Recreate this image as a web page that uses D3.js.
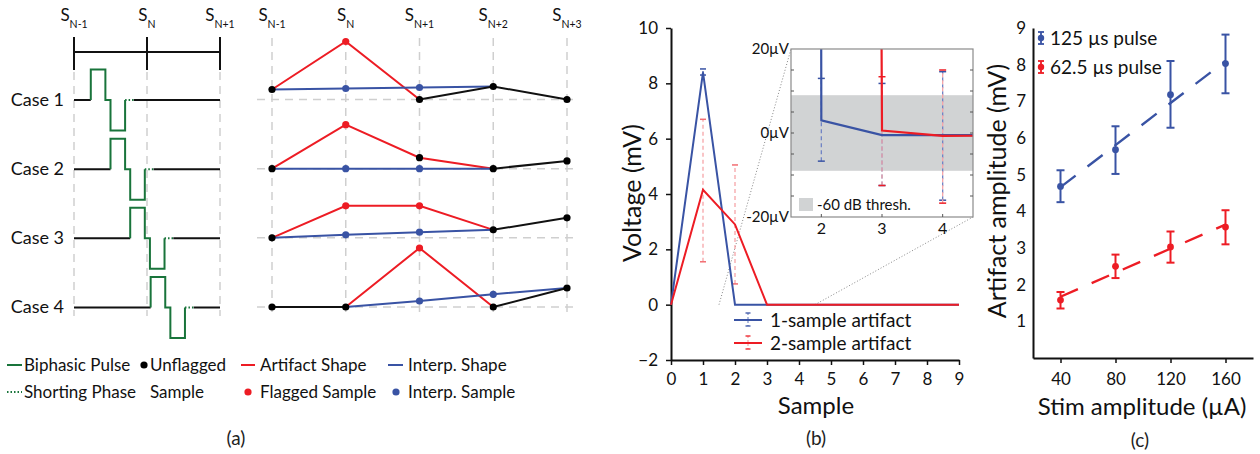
<!DOCTYPE html>
<html>
<head>
<meta charset="utf-8">
<script src="https://cdn.jsdelivr.net/npm/d3@7"></script>
<style>
  html, body { margin: 0; padding: 0; background: #fff; }
  svg { display: block; font-family: Lato, "Open Sans", sans-serif; }
</style>
</head>
<body>
<svg id="fig" width="1260" height="454"></svg>
<script>
// ---------------- data ----------------
// (a) stimulation timing diagram
const timingSamples = ["N-1", "N", "N+1"];
const caseNames = ["Case 1", "Case 2", "Case 3", "Case 4"];
// pulse onset, in sample periods after S_{N-1}
const pulseOnset = [0.23, 0.5, 0.77, 1.05];
const phaseWidth = 0.2;      // anodic / cathodic phase length
const interphaseGap = 0.07;
const shortingWidth = 0.12;

// (a) sample-level view
const sampleNames = ["N-1", "N", "N+1", "N+2", "N+3"];
// recorded value of each sample (arbitrary units), one row per case
const recorded = [
  [1.0, 5.8, 0.0, 1.3, 0.0],
  [0.0, 4.4, 1.1, 0.0, 0.77],
  [0.0, 3.2, 3.2, 0.8, 2.0],
  [0.0, 0.0, 5.9, 0.0, 1.9]
];
const flaggedIdx = [[1], [1], [1, 2], [2]];
const artifactSpan = [[0, 2], [0, 3], [0, 3], [1, 3]];
const unflaggedSpans = [[[2, 4]], [[3, 4]], [[3, 4]], [[0, 1], [3, 4]]];
const interpIdx = [[1, 2], [1, 2], [1, 2], [2, 3]];
const interpValues = [[1.1, 1.2], [0.0, 0.0], [0.3, 0.57], [0.6, 1.27]];
const interpSpan = [[0, 3], [0, 3], [0, 3], [1, 4]];

// (b) artifact shapes, mV
const sampleIdx = [0, 1, 2, 3, 4, 5, 6, 7, 8, 9];
const oneSample = [0, 8.4, 0, 0, 0, 0, 0, 0, 0, 0];
const twoSample = [0, 4.15, 2.9, 0, 0, 0, 0, 0, 0, 0];
const oneSampleErr = [[1, 8.3, 8.52]];
const twoSampleErr = [[1, 1.55, 6.7], [2, 0.75, 5.05]];
// (b) inset, µV
const insetIdx = [1, 2, 3, 4, 5];
const oneSampleUV = [8400, 3, -0.5, -0.5, -0.5];
const twoSampleUV = [4150, 2900, 0.6, -0.7, -0.6];
const oneSampleErrUV = [[2, -6.7, 13], [3, -12.5, 11.8], [4, -16, 14.6]];
const twoSampleErrUV = [[3, -12.5, 13.4], [4, -16.7, 15]];
const threshUV = 9;

// (c) artifact amplitude vs stimulation amplitude
const stimAmps = [40, 80, 120, 160];
const amp125 = [4.68, 5.68, 7.18, 8.03];
const err125 = [[4.25, 5.12], [5.02, 6.32], [6.28, 8.1], [7.22, 8.82]];
const amp62 = [1.58, 2.5, 3.03, 3.57];
const err62 = [[1.35, 1.8], [2.18, 2.82], [2.6, 3.45], [3.1, 4.03]];
const fit125 = [[40, 4.66], [160, 8.1]];
const fit62 = [[40, 1.67], [160, 3.64]];

// ---------------- styles ----------------
const BLUE = "#3953a4", RED = "#ed1c24", GREEN = "#19743b", GREY = "#cfcfcf";
const PINK = "#f6a5a8";

const svg = d3.select("#fig");
svg.append("rect").attr("width", 1260).attr("height", 454).attr("fill", "#fff");

function sampleLabel(g, x, sub) {
  const t = g.append("text").attr("x", x).attr("y", 21)
    .attr("text-anchor", "middle").attr("fill", "#111");
  t.append("tspan").attr("font-size", 17).text("S");
  t.append("tspan").attr("font-size", 10.5).attr("dy", 7).text(sub);
}

// ================= panel (a), timing =================
const gA = svg.append("g");
const tA = d3.scaleLinear().domain([0, 2]).range([74, 220]);
const caseY = d3.scaleLinear().domain([0, 3]).range([99.5, 307]);

timingSamples.forEach((s, i) => {
  sampleLabel(gA, tA(i), s);
  gA.append("line").attr("x1", tA(i)).attr("x2", tA(i)).attr("y1", 37).attr("y2", 70)
    .attr("stroke", "#111").attr("stroke-width", 2);
  gA.append("line").attr("x1", tA(i)).attr("x2", tA(i)).attr("y1", 72).attr("y2", 316)
    .attr("stroke", GREY).attr("stroke-width", 1.5).attr("stroke-dasharray", "8,6");
});
gA.append("line").attr("x1", tA(0)).attr("x2", tA(2)).attr("y1", 52).attr("y2", 52)
  .attr("stroke", "#111").attr("stroke-width", 2);

caseNames.forEach((name, c) => {
  const base = caseY(c);
  const lv = d3.scaleLinear().domain([-1, 1]).range([base + 31, base - 30]);
  const line = d3.line().x(d => tA(d[0])).y(d => lv(d[1]));
  const t0 = pulseOnset[c];
  const t1 = t0 + phaseWidth, t2 = t1 + interphaseGap, t3 = t2 + phaseWidth, t4 = t3 + shortingWidth;
  gA.append("text").attr("x", 64).attr("y", base + 6).attr("text-anchor", "end")
    .attr("font-size", 18).attr("fill", "#111").text(name);
  gA.append("path").attr("d", line([[0, 0], [t0, 0]])).attr("stroke", "#111").attr("stroke-width", 2).attr("fill", "none");
  gA.append("path").attr("d", line([[t0, 0], [t0, 1], [t1, 1], [t1, 0], [t2, 0], [t2, -1], [t3, -1], [t3, 0]]))
    .attr("stroke", GREEN).attr("stroke-width", 2).attr("fill", "none");
  gA.append("path").attr("d", line([[t3, 0], [t4, 0]])).attr("stroke", GREEN).attr("stroke-width", 2)
    .attr("stroke-dasharray", "1.5,2").attr("fill", "none");
  gA.append("path").attr("d", line([[t4, 0], [2, 0]])).attr("stroke", "#111").attr("stroke-width", 2).attr("fill", "none");
});

// ================= panel (a), samples =================
const gS = svg.append("g");
const xS = d3.scaleLinear().domain([0, 4]).range([272, 567]);
sampleNames.forEach((s, i) => {
  sampleLabel(gS, xS(i), s);
  gS.append("line").attr("x1", xS(i)).attr("x2", xS(i)).attr("y1", 38).attr("y2", 318)
    .attr("stroke", GREY).attr("stroke-width", 1.5).attr("stroke-dasharray", "8,6");
});
caseNames.forEach((name, c) => {
  const base = caseY(c);
  gS.append("line").attr("x1", 257).attr("x2", 576).attr("y1", base).attr("y2", base)
    .attr("stroke", GREY).attr("stroke-width", 1.5).attr("stroke-dasharray", "8,6");
});
caseNames.forEach((name, c) => {
  const yv = d3.scaleLinear().domain([0, 1]).range([caseY(c), caseY(c) - 10]);
  const line = d3.line().x(d => xS(d[0])).y(d => yv(d[1]));
  const rec = recorded[c];
  const interp = rec.map((v, i) => {
    const k = interpIdx[c].indexOf(i);
    return k >= 0 ? interpValues[c][k] : v;
  });
  const span = (a, b, vals) => d3.range(a, b + 1).map(i => [i, vals[i]]);
  // artifact shape
  gS.append("path").attr("d", line(span(artifactSpan[c][0], artifactSpan[c][1], rec)))
    .attr("stroke", RED).attr("stroke-width", 2).attr("fill", "none");
  // interpolated shape
  gS.append("path").attr("d", line(span(interpSpan[c][0], interpSpan[c][1], interp)))
    .attr("stroke", BLUE).attr("stroke-width", 2).attr("fill", "none");
  // unflagged trace
  unflaggedSpans[c].forEach(s => {
    gS.append("path").attr("d", line(span(s[0], s[1], rec)))
      .attr("stroke", "#111").attr("stroke-width", 2).attr("fill", "none");
  });
  interpIdx[c].forEach((i, k) => {
    gS.append("circle").attr("cx", xS(i)).attr("cy", yv(interpValues[c][k])).attr("r", 3.6).attr("fill", BLUE);
  });
  rec.forEach((v, i) => {
    if (flaggedIdx[c].includes(i)) return;
    gS.append("circle").attr("cx", xS(i)).attr("cy", yv(v)).attr("r", 3.6).attr("fill", "#000");
  });
  flaggedIdx[c].forEach(i => {
    gS.append("circle").attr("cx", xS(i)).attr("cy", yv(rec[i])).attr("r", 3.6).attr("fill", RED);
  });
});

// legend (a)
const gL = svg.append("g").attr("font-size", 17).attr("fill", "#111");
const row1 = 365, row2 = 392;
gL.append("line").attr("x1", 7).attr("x2", 22).attr("y1", row1).attr("y2", row1).attr("stroke", GREEN).attr("stroke-width", 2);
gL.append("text").attr("x", 24).attr("y", row1 + 6).text("Biphasic Pulse");
gL.append("line").attr("x1", 7).attr("x2", 22).attr("y1", row2).attr("y2", row2).attr("stroke", GREEN).attr("stroke-width", 2).attr("stroke-dasharray", "1.5,2");
gL.append("text").attr("x", 24).attr("y", row2 + 6).text("Shorting Phase");
gL.append("circle").attr("cx", 144).attr("cy", row1).attr("r", 3.6).attr("fill", "#000");
gL.append("text").attr("x", 150).attr("y", row1 + 6).text("Unflagged");
gL.append("text").attr("x", 150).attr("y", row2 + 6).text("Sample");
gL.append("line").attr("x1", 241).attr("x2", 255).attr("y1", row1).attr("y2", row1).attr("stroke", RED).attr("stroke-width", 2);
gL.append("text").attr("x", 260).attr("y", row1 + 6).text("Artifact Shape");
gL.append("circle").attr("cx", 248).attr("cy", row2).attr("r", 3.6).attr("fill", RED);
gL.append("text").attr("x", 260).attr("y", row2 + 6).text("Flagged Sample");
gL.append("line").attr("x1", 388).attr("x2", 403).attr("y1", row1).attr("y2", row1).attr("stroke", BLUE).attr("stroke-width", 2);
gL.append("text").attr("x", 408).attr("y", row1 + 6).text("Interp. Shape");
gL.append("circle").attr("cx", 396).attr("cy", row2).attr("r", 3.6).attr("fill", BLUE);
gL.append("text").attr("x", 408).attr("y", row2 + 6).text("Interp. Sample");
svg.append("text").attr("x", 236).attr("y", 445).attr("text-anchor", "middle").attr("font-size", 19).attr("fill", "#222").text("(a)");

// ================= panel (b) =================
const gB = svg.append("g");
const xB = d3.scaleLinear().domain([0, 9]).range([671, 959]);
const yB = d3.scaleLinear().domain([-2, 10]).range([360, 28]);

function styleAxis(g) {
  g.selectAll(".domain").attr("stroke", "#111").attr("stroke-width", 2);
  g.selectAll(".tick line").attr("stroke", "#111").attr("stroke-width", 1.5);
  g.selectAll(".tick text").attr("fill", "#111").attr("font-size", 17).attr("font-family", "Lato, sans-serif");
}
gB.append("g").attr("transform", "translate(0,360)")
  .call(d3.axisBottom(xB).tickValues(sampleIdx).tickSize(5).tickSizeOuter(0).tickPadding(8))
  .call(styleAxis);
gB.append("g").attr("transform", "translate(671,0)")
  .call(d3.axisLeft(yB).tickValues([-2, 0, 2, 4, 6, 8, 10]).tickSize(5).tickSizeOuter(0).tickPadding(8))
  .call(styleAxis);

// zoom connectors
gB.append("line").attr("x1", xB(1.5)).attr("y1", yB(0)).attr("x2", 791).attr("y2", 49)
  .attr("stroke", "#888").attr("stroke-width", 1).attr("stroke-dasharray", "1,2");
gB.append("line").attr("x1", xB(4.5)).attr("y1", yB(0)).attr("x2", 973).attr("y2", 217)
  .attr("stroke", "#888").attr("stroke-width", 1).attr("stroke-dasharray", "1,2");

function errBars(g, x, y, rows, color, dashColor, capW) {
  rows.forEach(r => {
    g.append("line").attr("x1", x(r[0])).attr("x2", x(r[0])).attr("y1", y(r[1])).attr("y2", y(r[2]))
      .attr("stroke", dashColor).attr("stroke-width", 1.3).attr("stroke-dasharray", "4,3");
    [r[1], r[2]].forEach(v => {
      g.append("line").attr("x1", x(r[0]) - capW / 2).attr("x2", x(r[0]) + capW / 2).attr("y1", y(v)).attr("y2", y(v))
        .attr("stroke", color).attr("stroke-width", 1.5);
    });
  });
}
const lineB = d3.line().x((d, i) => xB(sampleIdx[i])).y(d => yB(d));
errBars(gB, xB, yB, twoSampleErr, "#f26d72", PINK, 6);
gB.append("path").attr("d", lineB(oneSample)).attr("stroke", BLUE).attr("stroke-width", 2).attr("fill", "none");
gB.append("path").attr("d", lineB(twoSample)).attr("stroke", RED).attr("stroke-width", 2).attr("fill", "none");
errBars(gB, xB, yB, oneSampleErr, BLUE, BLUE, 6);

// legend (b)
[[320, BLUE, "#7d8fc9", "1-sample artifact"], [343, RED, PINK, "2-sample artifact"]].forEach(([y, c, dc, label]) => {
  gB.append("line").attr("x1", 734).attr("x2", 762).attr("y1", y).attr("y2", y).attr("stroke", c).attr("stroke-width", 2);
  gB.append("line").attr("x1", 748).attr("x2", 748).attr("y1", y - 7).attr("y2", y + 6).attr("stroke", dc).attr("stroke-width", 1.2).attr("stroke-dasharray", "2,2");
  [y - 7, y + 6].forEach(v => gB.append("line").attr("x1", 745.5).attr("x2", 750.5).attr("y1", v).attr("y2", v).attr("stroke", c).attr("stroke-width", 1.3));
  gB.append("text").attr("x", 770).attr("y", y + 7).attr("font-size", 19).attr("fill", "#111").text(label);
});

gB.append("text").attr("transform", "translate(641,193) rotate(-90)").attr("text-anchor", "middle")
  .attr("font-size", 25).attr("fill", "#111").text("Voltage (mV)");
gB.append("text").attr("x", 816).attr("y", 414).attr("text-anchor", "middle")
  .attr("font-size", 24).attr("fill", "#111").text("Sample");
svg.append("text").attr("x", 816).attr("y", 445).attr("text-anchor", "middle").attr("font-size", 19).attr("fill", "#222").text("(b)");

// ---- inset ----
const xI = d3.scaleLinear().domain([1.5, 4.5]).range([791, 973]);
const yI = d3.scaleLinear().domain([-20, 20]).range([217, 49]);
const gI = svg.append("g");
gI.append("defs").append("clipPath").attr("id", "insetClip")
  .append("rect").attr("x", xI(1.5)).attr("y", yI(20)).attr("width", xI(4.5) - xI(1.5)).attr("height", yI(-20) - yI(20));
gI.append("rect").attr("x", xI(1.5)).attr("y", yI(20)).attr("width", xI(4.5) - xI(1.5)).attr("height", yI(-20) - yI(20)).attr("fill", "#fff");
gI.append("rect").attr("x", xI(1.5)).attr("y", yI(threshUV)).attr("width", xI(4.5) - xI(1.5))
  .attr("height", yI(-threshUV) - yI(threshUV)).attr("fill", "#d1d3d4");
const gIc = gI.append("g").attr("clip-path", "url(#insetClip)");
const lineI = d3.line().x((d, i) => xI(insetIdx[i])).y(d => yI(d));
errBars(gIc, xI, yI, oneSampleErrUV, BLUE, "#6f83c4", 7);
errBars(gIc, xI, yI, twoSampleErrUV, RED, PINK, 7);
gIc.append("path").attr("d", lineI(oneSampleUV)).attr("stroke", BLUE).attr("stroke-width", 2.2).attr("fill", "none");
gIc.append("path").attr("d", lineI(twoSampleUV)).attr("stroke", RED).attr("stroke-width", 2.2).attr("fill", "none");
// frame and inward ticks
gI.append("rect").attr("x", xI(1.5)).attr("y", yI(20)).attr("width", xI(4.5) - xI(1.5)).attr("height", yI(-20) - yI(20))
  .attr("fill", "none").attr("stroke", "#8a8a8a").attr("stroke-width", 1.2);
d3.range(-15, 20, 5).forEach(v => {
  gI.append("line").attr("x1", xI(1.5)).attr("x2", xI(1.5) + 3).attr("y1", yI(v)).attr("y2", yI(v)).attr("stroke", "#555").attr("stroke-width", 1);
  gI.append("line").attr("x1", xI(4.5)).attr("x2", xI(4.5) - 3).attr("y1", yI(v)).attr("y2", yI(v)).attr("stroke", "#555").attr("stroke-width", 1);
});
[2, 3, 4].forEach(v => {
  gI.append("line").attr("x1", xI(v)).attr("x2", xI(v)).attr("y1", yI(-20)).attr("y2", yI(-20) - 3).attr("stroke", "#555");
  gI.append("text").attr("x", xI(v)).attr("y", 234).attr("text-anchor", "middle").attr("font-size", 16).attr("fill", "#111").text(v);
});
[[20, "20µV"], [0, "0µV"], [-20, "-20µV"]].forEach(([v, s]) => {
  gI.append("text").attr("x", 789).attr("y", yI(v) + 5).attr("text-anchor", "end").attr("font-size", 15).attr("fill", "#111").text(s);
});
gI.append("rect").attr("x", 799).attr("y", 198).attr("width", 14).attr("height", 13).attr("fill", "#d1d3d4");
gI.append("text").attr("x", 817).attr("y", 210).attr("font-size", 15).attr("fill", "#111").text("-60 dB thresh.");

// ================= panel (c) =================
const gC = svg.append("g");
const xC = d3.scaleLinear().domain([20, 180]).range([1033, 1253]);
const yC = d3.scaleLinear().domain([0, 9]).range([358, 28]);
gC.append("g").attr("transform", "translate(0,358)")
  .call(d3.axisBottom(xC).tickValues(stimAmps).tickSize(5).tickSizeOuter(0).tickPadding(10))
  .call(styleAxis);
gC.append("g").attr("transform", "translate(1033,0)")
  .call(d3.axisLeft(yC).tickValues(d3.range(1, 10)).tickSize(0).tickSizeOuter(0).tickPadding(7))
  .call(styleAxis);

const fitLine = d3.line().x(d => xC(d[0])).y(d => yC(d[1]));
[[fit125, BLUE], [fit62, RED]].forEach(([f, c]) => {
  gC.append("path").attr("d", fitLine(f)).attr("stroke", c).attr("stroke-width", 2.4)
    .attr("stroke-dasharray", "19,15").attr("fill", "none");
});
[[amp125, err125, BLUE], [amp62, err62, RED]].forEach(([vals, errs, c]) => {
  stimAmps.forEach((s, i) => {
    const x = xC(s);
    gC.append("line").attr("x1", x).attr("x2", x).attr("y1", yC(errs[i][0])).attr("y2", yC(errs[i][1]))
      .attr("stroke", c).attr("stroke-width", 2);
    errs[i].forEach(v => gC.append("line").attr("x1", x - 4).attr("x2", x + 4).attr("y1", yC(v)).attr("y2", yC(v))
      .attr("stroke", c).attr("stroke-width", 2));
    gC.append("circle").attr("cx", x).attr("cy", yC(vals[i])).attr("r", 3.4).attr("fill", c);
  });
});
// legend (c)
[[38, BLUE, "125 µs pulse"], [67, RED, "62.5 µs pulse"]].forEach(([y, c, label]) => {
  gC.append("line").attr("x1", 1041).attr("x2", 1041).attr("y1", y - 6).attr("y2", y + 6).attr("stroke", c).attr("stroke-width", 1.8);
  [y - 6, y + 6].forEach(v => gC.append("line").attr("x1", 1038).attr("x2", 1044).attr("y1", v).attr("y2", v).attr("stroke", c).attr("stroke-width", 1.8));
  gC.append("circle").attr("cx", 1041).attr("cy", y).attr("r", 3.2).attr("fill", c);
  gC.append("text").attr("x", 1050).attr("y", y + 7).attr("font-size", 19).attr("fill", "#111").text(label);
});
gC.append("text").attr("transform", "translate(1006,191) rotate(-90)").attr("text-anchor", "middle")
  .attr("font-size", 25).attr("fill", "#111").text("Artifact amplitude (mV)");
gC.append("text").attr("x", 1142).attr("y", 415).attr("text-anchor", "middle")
  .attr("font-size", 24).attr("fill", "#111").text("Stim amplitude (µA)");
svg.append("text").attr("x", 1140).attr("y", 447).attr("text-anchor", "middle").attr("font-size", 19).attr("fill", "#222").text("(c)");
</script>
</body>
</html>
